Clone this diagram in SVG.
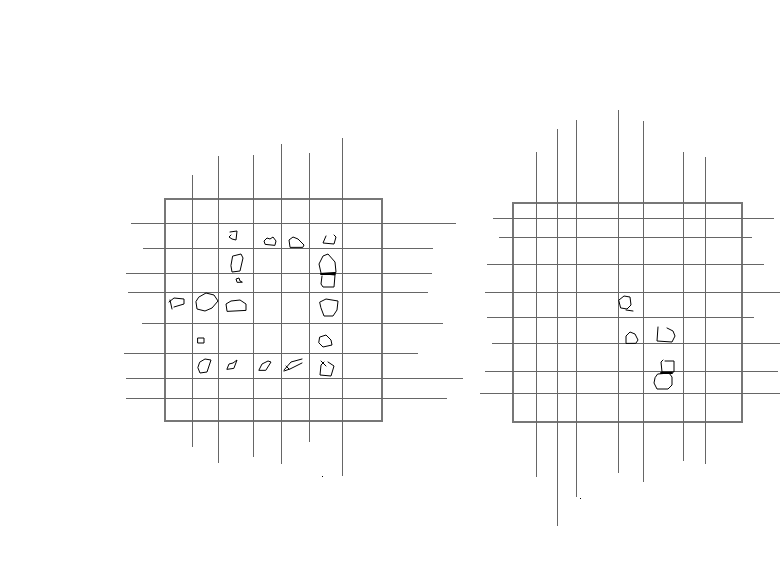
<svg xmlns="http://www.w3.org/2000/svg" width="780" height="570" viewBox="0 0 780 570">
<style>
.g{stroke:#666;stroke-width:1;fill:none;shape-rendering:crispEdges}
.b{stroke:#777;stroke-width:2;fill:none;shape-rendering:crispEdges}
.s{stroke:#000;stroke-width:1;fill:none;stroke-linejoin:round;stroke-linecap:round}
</style>
<rect width="780" height="570" fill="#fff"/>
<g id="left-grid">
<rect class="b" x="165" y="199" width="217" height="222"/>
<g class="g">
<line x1="192" y1="175" x2="192" y2="447"/>
<line x1="218" y1="156" x2="218" y2="463"/>
<line x1="253" y1="155" x2="253" y2="457"/>
<line x1="281" y1="144" x2="281" y2="464"/>
<line x1="309" y1="153" x2="309" y2="442"/>
<line x1="342" y1="138" x2="342" y2="476"/>
<line x1="131" y1="223" x2="456" y2="223"/>
<line x1="143" y1="248" x2="433" y2="248"/>
<line x1="126" y1="273" x2="432" y2="273"/>
<line x1="128" y1="292" x2="428" y2="292"/>
<line x1="142" y1="323" x2="443" y2="323"/>
<line x1="124" y1="353" x2="418" y2="353"/>
<line x1="126" y1="378" x2="463" y2="378"/>
<line x1="126" y1="398" x2="447" y2="398"/>
</g>
<rect x="322" y="476" width="1" height="1" fill="#000"/>
</g>
<g id="left-marks" class="s">
<path d="M230,232 L237,231 L236,240 L232,239 L229,237 L231,235"/>
<path d="M265,244 L264,241 L267,238 L270,239 L273,237 L276,241 L275,245 Z"/>
<path d="M290,247 L289,240 L293,237 L298,239 L304,245 L303,247 Z"/>
<path d="M326,236 L323,243 L334,244 L336,237 L334,235"/>
<path d="M233,256 L241,254 L243,258 L240,271 L232,272 L231,266 Z"/>
<path d="M237,282 L236,279 L239,278 L240,281 L242,282 Z"/>
<path d="M321,273 L319,264 L323,256 L328,254 L335,262 L336,272 Z"/>
<path d="M322,276 L321,284 L323,287 L334,287 L335,275 L325,274" />
<line x1="321" y1="274" x2="335" y2="274" stroke-width="2"/>
<path d="M172,309 L170,300 M169,302 L174,298 L184,299 L184,304 L174,307"/>
<path d="M199,297 L206,293 L214,295 L218,301 L212,308 L205,311 L197,309 L196,302 Z"/>
<path d="M227,311 L226,304 L231,301 L240,300 L246,304 L246,310 Z"/>
<path d="M320,302 L326,299 L338,301 L337,310 L333,316 L324,316 L321,308 Z"/>
<rect x="198" y="338" width="6" height="5"/>
<path d="M320,337 L326,335 L331,340 L332,345 L323,347 L319,343 Z"/>
<path d="M200,362 L205,359 L211,360 L207,372 L200,373 L198,368 Z"/>
<path d="M227,369 L229,364 L233,363 L237,360 L234,368 Z"/>
<path d="M259,370 L262,364 L268,361 L271,362 L266,370 Z"/>
<path d="M284,370 L291,362 L302,359 M302,363 L290,369 L284,371 M286,366 L289,369"/>
<path d="M324,362 L321,365 L320,375 L331,376 L334,366 L328,362 M321,361 L326,366"/>
</g>
<g id="right-grid">
<rect class="b" x="513" y="203" width="229" height="219"/>
<g class="g">
<line x1="536" y1="152" x2="536" y2="477"/>
<line x1="557" y1="129" x2="557" y2="526"/>
<line x1="576" y1="120" x2="576" y2="497"/>
<line x1="618" y1="110" x2="618" y2="473"/>
<line x1="643" y1="121" x2="643" y2="482"/>
<line x1="683" y1="152" x2="683" y2="461"/>
<line x1="705" y1="157" x2="705" y2="464"/>
<line x1="493" y1="218" x2="774" y2="218"/>
<line x1="499" y1="237" x2="752" y2="237"/>
<line x1="487" y1="264" x2="764" y2="264"/>
<line x1="485" y1="292" x2="780" y2="292"/>
<line x1="487" y1="317" x2="754" y2="317"/>
<line x1="492" y1="343" x2="780" y2="343"/>
<line x1="485" y1="371" x2="778" y2="371"/>
<line x1="480" y1="393" x2="780" y2="393"/>
</g>
<rect x="580" y="498" width="1" height="1" fill="#000"/>
</g>
<g id="right-marks" class="s">
<path d="M619,300 L624,296 L630,297 L631,305 L627,309 L621,308 Z M626,310 L633,311"/>
<path d="M626,343 L626,336 L630,332 L635,334 L638,340 L636,343 Z"/>
<path d="M658,327 L657,341 L672,342 L675,336 L673,331 L667,328"/>
<path d="M663,360 L661,362 L662,372 L674,372 L674,361 L665,361"/>
<path d="M658,374 L669,373 L672,377 L672,385 L668,389 L657,389 L654,383 L655,378 Z"/>
<line x1="661" y1="373" x2="672" y2="373" stroke-width="2"/>
</g>
</svg>
